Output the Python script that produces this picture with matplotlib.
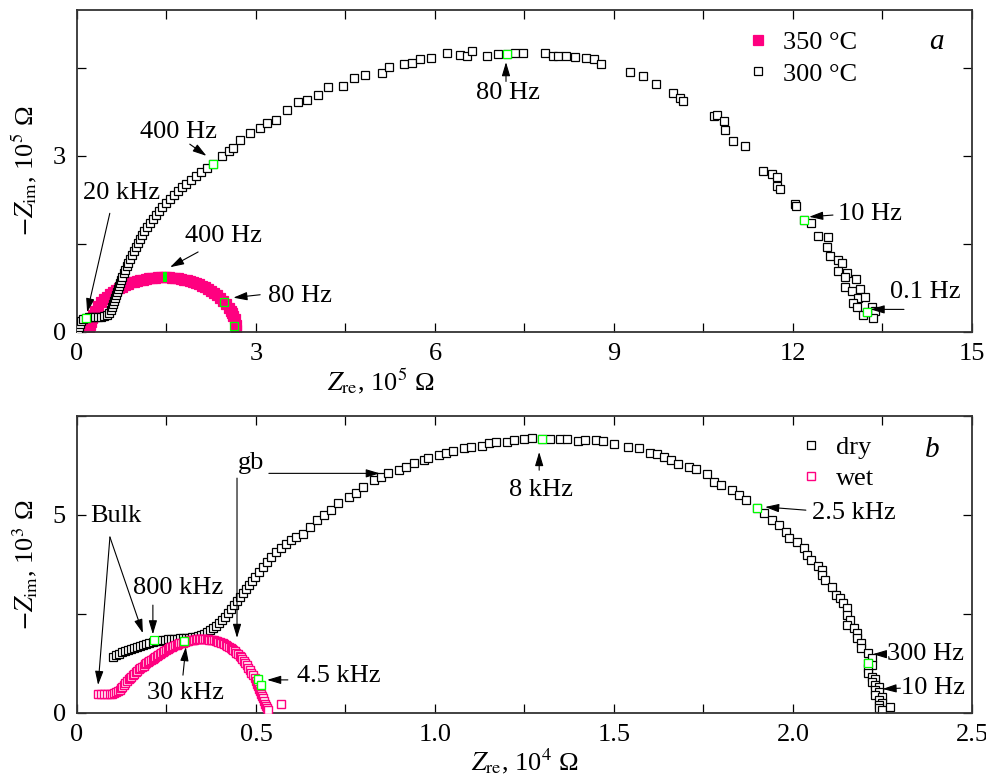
import matplotlib
matplotlib.use("Agg")
import matplotlib.pyplot as plt
from matplotlib.ticker import MultipleLocator, FuncFormatter

plt.rcParams["font.family"] = ["Liberation Serif", "DejaVu Serif"]
plt.rcParams["mathtext.fontset"] = "stix"

PINK = "#ff0080"
GREEN = "#00ff00"

# ---- panel a: 350 C (filled) and 300 C (open), units 1e5 Ohm ----
t350_re = [0.20, 0.22, 0.23, 0.25, 0.27, 0.30, 0.35, 0.40, 0.45, 0.50, 0.55, 0.60, 0.65, 0.70,
           0.75, 0.80, 0.85, 0.90, 0.95, 1.00, 1.05, 1.10, 1.15, 1.20, 1.25, 1.30, 1.35, 1.40,
           1.45, 1.50, 1.55, 1.60, 1.65, 1.70, 1.75, 1.80, 1.85, 1.90, 1.95, 2.00, 2.05, 2.10,
           2.15, 2.20, 2.25, 2.30, 2.35, 2.40, 2.45, 2.50, 2.55, 2.58, 2.60, 2.62, 2.64, 2.66, 2.67]
t350_im = [0.00, 0.12, 0.17, 0.24, 0.29, 0.35, 0.43, 0.50, 0.55, 0.60, 0.64, 0.68, 0.71, 0.74,
           0.77, 0.79, 0.82, 0.84, 0.85, 0.87, 0.88, 0.89, 0.90, 0.91, 0.92, 0.92, 0.93, 0.93,
           0.93, 0.93, 0.93, 0.92, 0.92, 0.91, 0.90, 0.89, 0.88, 0.86, 0.85, 0.83, 0.81, 0.78,
           0.76, 0.73, 0.70, 0.66, 0.63, 0.58, 0.53, 0.47, 0.40, 0.35, 0.31, 0.27, 0.21, 0.12, 0.02]

t300_re = [0.02, 0.03, 0.05, 0.07, 0.10, 0.15, 0.20, 0.25, 0.30, 0.35, 0.40, 0.45, 0.50, 0.54,
           0.57, 0.59, 0.60, 0.62, 0.64, 0.65, 0.67, 0.69, 0.70, 0.72, 0.74, 0.75, 0.79, 0.80,
           0.84, 0.86, 0.89, 0.92, 0.96, 0.99, 1.02, 1.06, 1.09, 1.12, 1.17, 1.22, 1.27, 1.32,
           1.37, 1.42, 1.49, 1.56, 1.63, 1.69, 1.76, 1.83, 1.91, 1.99, 2.08, 2.18, 2.28,
           2.43, 2.55, 2.61, 2.73, 2.90, 3.07, 3.18, 3.34, 3.52, 3.70, 3.85, 4.04, 4.21, 4.46,
           4.64, 4.83, 5.11, 5.23, 5.48, 5.61, 5.75, 5.93, 6.20, 6.42, 6.54, 6.62, 6.87, 7.06,
           7.21, 7.34, 7.47, 7.84, 7.98, 8.06, 8.20, 8.35, 8.53, 8.66, 8.78, 9.27, 9.49, 9.70,
           9.99, 10.11, 10.16, 10.68, 10.73, 10.84, 10.86, 10.99, 11.19, 11.50, 11.65, 11.73,
           11.73, 11.78, 12.03, 12.05, 12.18, 12.30, 12.42, 12.59, 12.57, 12.62, 12.75, 12.82,
           12.90, 12.75, 12.87, 13.06, 12.87, 12.99, 13.12, 13.09, 13.21, 13.00, 13.07, 13.32,
           13.37, 13.34, 13.17, 13.24]
t300_im = [0.03, 0.08, 0.13, 0.18, 0.22, 0.23, 0.25, 0.25, 0.25, 0.25, 0.25, 0.27, 0.29, 0.32,
           0.37, 0.42, 0.47, 0.52, 0.58, 0.63, 0.68, 0.73, 0.78, 0.83, 0.88, 0.93, 1.00, 1.05,
           1.12, 1.17, 1.24, 1.31, 1.38, 1.45, 1.51, 1.58, 1.65, 1.72, 1.79, 1.86, 1.92, 1.99,
           2.06, 2.13, 2.20, 2.27, 2.33, 2.40, 2.47, 2.52, 2.59, 2.66, 2.73, 2.79, 2.86,
           3.00, 3.08, 3.14, 3.27, 3.39, 3.48, 3.56, 3.62, 3.79, 3.92, 3.96, 4.04, 4.18, 4.19,
           4.33, 4.38, 4.42, 4.52, 4.57, 4.59, 4.66, 4.67, 4.76, 4.72, 4.71, 4.79, 4.71, 4.74,
           4.74, 4.76, 4.76, 4.76, 4.71, 4.71, 4.71, 4.69, 4.67, 4.66, 4.57, 4.43, 4.37, 4.23,
           4.08, 3.99, 3.94, 3.68, 3.70, 3.60, 3.44, 3.25, 3.17, 2.74, 2.69, 2.64,
           2.49, 2.43, 2.18, 2.15, 1.91, 1.85, 1.63, 1.62, 1.45, 1.29, 1.22, 1.17,
           1.00, 1.04, 0.93, 0.90, 0.76, 0.69, 0.73, 0.58, 0.59, 0.49, 0.42, 0.42,
           0.35, 0.23, 0.28, 0.34]

# marked frequencies (green)
t300_mark_re = [0.15, 2.28, 7.21, 12.18, 13.24]
t300_mark_im = [0.23, 2.86, 4.74, 1.91, 0.34]
t350_mark_re = [2.46, 2.63]
t350_mark_im = [0.50, 0.10]
t350_peak_re = [1.47]
t350_peak_im = [0.93]

# ---- panel b: dry and wet, units 1e4 / 1e3 Ohm ----
dry_re = [0.101, 0.109, 0.117, 0.126, 0.134, 0.142, 0.151, 0.159, 0.168, 0.176, 0.184, 0.193,
          0.201, 0.212, 0.221, 0.229, 0.237, 0.246, 0.254, 0.263, 0.271, 0.279, 0.288, 0.296,
          0.304, 0.313, 0.321, 0.330, 0.338, 0.346, 0.355, 0.363, 0.372, 0.380, 0.388, 0.397,
          0.405, 0.413, 0.422, 0.430, 0.439, 0.447, 0.455, 0.464, 0.472, 0.480, 0.489, 0.497,
          0.508, 0.520, 0.531, 0.542, 0.556, 0.570, 0.584, 0.598, 0.612,
          0.63, 0.65, 0.67, 0.69, 0.71, 0.73, 0.76, 0.78, 0.80, 0.83, 0.85, 0.87, 0.90, 0.92,
          0.94, 0.97, 0.98, 1.01, 1.03, 1.05, 1.08, 1.10, 1.13, 1.15, 1.17, 1.20, 1.22, 1.25,
          1.27, 1.30, 1.32, 1.35, 1.37, 1.40, 1.42, 1.45, 1.47, 1.50, 1.54, 1.57, 1.60, 1.62,
          1.64, 1.66, 1.68, 1.71, 1.73, 1.76,
          1.78, 1.80, 1.83, 1.85, 1.87, 1.90, 1.92, 1.94, 1.96, 1.98, 1.99, 2.01, 2.03, 2.04,
          2.05, 2.07, 2.08, 2.08, 2.09, 2.11, 2.12, 2.13, 2.14, 2.15, 2.15, 2.16, 2.15, 2.17,
          2.18, 2.18, 2.19, 2.19, 2.21, 2.22, 2.21, 2.22, 2.21, 2.21, 2.22, 2.23, 2.22, 2.23,
          2.24, 2.23, 2.24, 2.23, 2.25, 2.24, 2.25, 2.24, 2.24, 2.25, 2.27]
dry_im = [1.41, 1.46, 1.48, 1.53, 1.56, 1.58, 1.61, 1.64, 1.66, 1.69, 1.71, 1.74,
          1.76, 1.79, 1.81, 1.81, 1.84, 1.84, 1.86, 1.86, 1.86, 1.86, 1.89, 1.89,
          1.89, 1.89, 1.91, 1.91, 1.94, 1.96, 1.99, 2.04, 2.09, 2.14, 2.19, 2.27,
          2.34, 2.42, 2.52, 2.62, 2.72, 2.82, 2.92, 3.03, 3.13, 3.23, 3.33, 3.43,
          3.56, 3.68, 3.81, 3.93, 4.06, 4.16, 4.26, 4.36, 4.44,
          4.51, 4.69, 4.87, 5.00, 5.12, 5.30, 5.45, 5.56, 5.70, 5.88, 5.96, 6.06, 6.13, 6.21,
          6.31, 6.38, 6.43, 6.51, 6.56, 6.61, 6.68, 6.71, 6.74, 6.81, 6.84, 6.84, 6.89, 6.92,
          6.94, 6.92, 6.92, 6.92, 6.92, 6.87, 6.89, 6.89, 6.87, 6.79, 6.71, 6.69, 6.56, 6.53,
          6.46, 6.38, 6.28, 6.21, 6.16, 6.04,
          5.83, 5.75, 5.62, 5.50, 5.37, 5.17, 5.04, 4.87, 4.74, 4.57, 4.41, 4.31, 4.16, 3.99,
          3.86, 3.71, 3.61, 3.48, 3.35, 3.18, 2.97, 2.90, 2.77, 2.65, 2.47, 2.34, 2.21, 2.14,
          2.01, 1.89, 1.76, 1.64, 1.51, 1.38, 1.26, 1.20, 1.13, 1.00, 0.90, 0.85, 0.78, 0.70,
          0.65, 0.57, 0.52, 0.45, 0.40, 0.32, 0.25, 0.19, 0.12, 0.08, 0.14]

wet_re = [0.059, 0.067, 0.075, 0.083, 0.092, 0.097, 0.103, 0.109, 0.115, 0.119,
          0.123, 0.127, 0.131, 0.135, 0.140, 0.144, 0.148, 0.152, 0.156, 0.160,
          0.165, 0.169, 0.173, 0.177, 0.182, 0.186, 0.190, 0.194, 0.198, 0.202,
          0.207, 0.211, 0.215, 0.219, 0.223, 0.227, 0.232, 0.236, 0.240, 0.244,
          0.249, 0.253, 0.257, 0.261, 0.265, 0.269, 0.274, 0.278, 0.282, 0.286,
          0.291, 0.295, 0.299, 0.303, 0.307, 0.311, 0.316, 0.320, 0.324, 0.328,
          0.332, 0.336, 0.341, 0.345, 0.349, 0.353, 0.358, 0.362, 0.366, 0.370,
          0.374, 0.378, 0.383, 0.387, 0.391, 0.395, 0.399, 0.403, 0.408, 0.412,
          0.416, 0.420, 0.425, 0.429, 0.433, 0.437, 0.441, 0.445, 0.450, 0.454,
          0.458, 0.462, 0.466, 0.470, 0.475, 0.479, 0.483, 0.487, 0.492, 0.496,
          0.500, 0.503, 0.506, 0.508, 0.511, 0.514, 0.517, 0.519, 0.522, 0.525,
          0.528, 0.531, 0.534, 0.57]
wet_im = [0.47, 0.47, 0.47, 0.47, 0.47, 0.48, 0.50, 0.52, 0.55, 0.58,
          0.62, 0.66, 0.70, 0.75, 0.80, 0.84, 0.88, 0.91, 0.95, 0.99,
          1.03, 1.06, 1.10, 1.12, 1.15, 1.19, 1.23, 1.25, 1.28, 1.30,
          1.33, 1.35, 1.38, 1.40, 1.43, 1.45, 1.48, 1.50, 1.53, 1.55,
          1.58, 1.61, 1.64, 1.65, 1.66, 1.68, 1.71, 1.72, 1.74, 1.75,
          1.76, 1.77, 1.79, 1.80, 1.81, 1.82, 1.84, 1.84, 1.84, 1.85,
          1.86, 1.86, 1.86, 1.86, 1.86, 1.86, 1.86, 1.86, 1.86, 1.85,
          1.84, 1.84, 1.84, 1.82, 1.81, 1.80, 1.79, 1.77, 1.76, 1.73,
          1.71, 1.68, 1.66, 1.63, 1.61, 1.58, 1.56, 1.52, 1.48, 1.44,
          1.41, 1.36, 1.31, 1.26, 1.21, 1.14, 1.08, 1.01, 0.95, 0.87,
          0.80, 0.73, 0.67, 0.61, 0.55, 0.48, 0.42, 0.36, 0.30, 0.23,
          0.17, 0.12, 0.07, 0.22]

dry_mark_re = [0.215, 1.30, 1.90, 2.21]
dry_mark_im = [1.84, 6.92, 5.17, 1.26]
wet_mark_re = [0.30, 0.505, 0.515]
wet_mark_im = [1.81, 0.85, 0.70]

MS = 6
MEW = 0.9
FS = 19


def arrow(ax, tail, head):
    ax.annotate("", xy=head, xytext=tail,
                arrowprops=dict(arrowstyle="-|>,head_length=0.6,head_width=0.18",
                                color="k", lw=0.8, shrinkA=0, shrinkB=0,
                                mutation_scale=14))


def style_axes(ax):
    ax.tick_params(which="both", direction="in", top=True, right=True,
                   length=6.5, width=0.9, labelsize=FS, pad=8)
    for sp in ax.spines.values():
        sp.set_linewidth(1.3)
        sp.set_color("#333333")


fig = plt.figure(figsize=(9.87, 7.78), dpi=100)
ax1 = fig.add_axes([0.078, 0.5737, 0.9068, 0.4135])
ax2 = fig.add_axes([0.078, 0.0839, 0.9068, 0.3814])

# ---------------- panel a ----------------
h350, = ax1.plot(t350_re, t350_im, "s", ms=7.5, mfc=PINK, mec=PINK, mew=MEW,
                 label="350 °C", zorder=2)
ax1.plot(t350_mark_re, t350_mark_im, "s", ms=MS, mfc=PINK, mec=GREEN, mew=MEW, zorder=2.5)
peak_marker = [(-0.35, -1), (0.35, -1), (0.35, 1), (-0.35, 1), (-0.35, -1)]
ax1.plot(t350_peak_re, t350_peak_im, marker=peak_marker, ls="none", ms=MS + 1.5,
         mfc=GREEN, mec=GREEN, mew=0, zorder=2.6)
h300, = ax1.plot(t300_re, t300_im, "s", ms=MS, mfc="white", mec="k", mew=MEW,
                 label="300 °C", zorder=3)
ax1.plot(t300_mark_re, t300_mark_im, "s", ms=MS, mfc="white", mec=GREEN, mew=MEW, zorder=3.5)

ax1.set_xlim(0, 15)
ax1.set_ylim(0, 5.49)
ax1.xaxis.set_major_locator(MultipleLocator(3))
ax1.xaxis.set_minor_locator(MultipleLocator(1.5))
ax1.yaxis.set_major_locator(MultipleLocator(3))
ax1.yaxis.set_minor_locator(MultipleLocator(1.5))
style_axes(ax1)
ax1.set_xlabel(r"$Z_{\mathrm{re}}$, 10$^5$ Ω", fontsize=FS)
ax1.set_ylabel(r"$-Z_{\mathrm{im}}$, 10$^5$ Ω", fontsize=FS)
ax1.xaxis.set_label_coords(0.34, -0.11)
ax1.yaxis.set_label_coords(-0.042, 0.5)

ax1.text(1.70, 3.41, "400 Hz", fontsize=FS, ha="center", va="center")
arrow(ax1, (1.89, 3.20), (2.17, 3.00))
ax1.text(0.75, 2.37, "20 kHz", fontsize=FS, ha="center", va="center")
arrow(ax1, (0.55, 2.02), (0.17, 0.33))
ax1.text(2.45, 1.63, "400 Hz", fontsize=FS, ha="center", va="center")
arrow(ax1, (2.03, 1.36), (1.56, 1.10))
ax1.text(3.74, 0.61, "80 Hz", fontsize=FS, ha="center", va="center")
arrow(ax1, (3.07, 0.63), (2.62, 0.58))
ax1.text(7.22, 4.07, "80 Hz", fontsize=FS, ha="center", va="center")
arrow(ax1, (7.19, 4.27), (7.19, 4.60))
ax1.text(13.29, 2.01, "10 Hz", fontsize=FS, ha="center", va="center")
arrow(ax1, (12.67, 1.99), (12.27, 1.96))
ax1.text(14.21, 0.68, "0.1 Hz", fontsize=FS, ha="center", va="center")
arrow(ax1, (13.86, 0.38), (13.30, 0.38))
ax1.text(0.96, 0.90, "a", transform=ax1.transAxes, fontsize=FS + 2,
         style="italic", ha="center", va="center")
ax1.legend(handles=[h350, h300], loc="upper left", bbox_to_anchor=(0.749, 0.935),
           frameon=False, fontsize=FS, numpoints=1, handlelength=0.8,
           handletextpad=0.55, labelspacing=0.3, borderpad=0, borderaxespad=0)

# ---------------- panel b ----------------
hdry, = ax2.plot(dry_re, dry_im, "s", ms=MS, mfc="white", mec="k", mew=MEW,
                 label="dry", zorder=2)
ax2.plot(dry_mark_re, dry_mark_im, "s", ms=MS, mfc="white", mec=GREEN, mew=MEW, zorder=2.5)
hwet, = ax2.plot(wet_re, wet_im, "s", ms=MS, mfc="white", mec=PINK, mew=1.0,
                 label="wet", zorder=3)
ax2.plot(wet_mark_re, wet_mark_im, "s", ms=MS, mfc="white", mec=GREEN, mew=1.0, zorder=3.5)

ax2.set_xlim(0, 2.5)
ax2.set_ylim(0, 7.5)
ax2.xaxis.set_major_locator(MultipleLocator(0.5))
ax2.xaxis.set_minor_locator(MultipleLocator(0.25))
ax2.yaxis.set_major_locator(MultipleLocator(5))
ax2.yaxis.set_minor_locator(MultipleLocator(2.5))
ax2.xaxis.set_major_formatter(FuncFormatter(lambda v, p: "0" if v == 0 else f"{v:.1f}"))
style_axes(ax2)
ax2.set_xlabel(r"$Z_{\mathrm{re}}$, 10$^4$ Ω", fontsize=FS)
ax2.set_ylabel(r"$-Z_{\mathrm{im}}$, 10$^3$ Ω", fontsize=FS)
ax2.xaxis.set_label_coords(0.5, -0.115)
ax2.yaxis.set_label_coords(-0.042, 0.5)

ax2.text(0.036, 4.97, "Bulk", fontsize=FS, ha="left", va="center")
arrow(ax2, (0.092, 4.44), (0.059, 0.70))
arrow(ax2, (0.092, 4.44), (0.184, 2.01))
ax2.text(0.282, 3.15, "800 kHz", fontsize=FS, ha="center", va="center")
arrow(ax2, (0.212, 2.72), (0.212, 1.98))
ax2.text(0.486, 6.31, "gb", fontsize=FS, ha="center", va="center")
arrow(ax2, (0.536, 6.05), (0.846, 6.05))
arrow(ax2, (0.447, 5.93), (0.447, 1.89))
ax2.text(0.302, 0.50, "30 kHz", fontsize=FS, ha="center", va="center")
arrow(ax2, (0.296, 0.95), (0.304, 1.66))
ax2.text(0.73, 0.93, "4.5 kHz", fontsize=FS, ha="center", va="center")
arrow(ax2, (0.589, 0.83), (0.531, 0.83))
ax2.text(1.296, 5.63, "8 kHz", fontsize=FS, ha="center", va="center")
arrow(ax2, (1.291, 6.13), (1.291, 6.59))
ax2.text(2.17, 5.04, "2.5 kHz", fontsize=FS, ha="center", va="center")
arrow(ax2, (2.036, 5.12), (1.922, 5.20))
ax2.text(2.37, 1.48, "300 Hz", fontsize=FS, ha="center", va="center")
arrow(ax2, (2.257, 1.48), (2.223, 1.48))
ax2.text(2.39, 0.63, "10 Hz", fontsize=FS, ha="center", va="center")
arrow(ax2, (2.30, 0.62), (2.25, 0.60))
ax2.text(0.956, 0.885, "b", transform=ax2.transAxes, fontsize=FS + 2,
         style="italic", ha="center", va="center")
ax2.legend(handles=[hdry, hwet], loc="upper left", bbox_to_anchor=(0.808, 0.935),
           frameon=False, fontsize=FS, numpoints=1, handlelength=0.8,
           handletextpad=0.55, labelspacing=0.3, borderpad=0, borderaxespad=0)

fig.savefig("out.png", dpi=100)
